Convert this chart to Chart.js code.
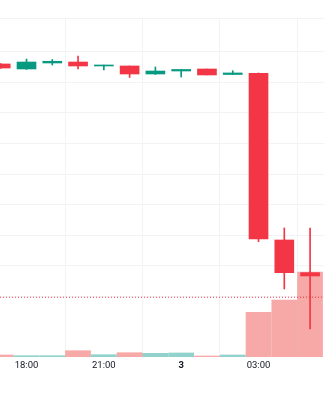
<!DOCTYPE html>
<html>
<head>
<meta charset="utf-8">
<script src="https://cdn.jsdelivr.net/npm/chart.js@4"></script>
<style>
    html, body { margin: 0; padding: 0; background: #ffffff; }
    #wrap { width: 324px; height: 400px; }
</style>
</head>
<body>
<div id="wrap"><canvas id="candleChart" width="324" height="400"></canvas></div>
<script>
/***************************************************************
 * DATA
 ***************************************************************/
// hour of each candle (24 = day 3, 00:00)
const hours   = [17, 18, 19, 20, 21, 22, 23, 24, 25, 26, 27, 28, 29];
const opens   = [83.01, 82.19, 83.17, 83.33, 82.68, 82.68, 81.37, 81.86, 82.19, 81.29, 81.49, 54.25, 48.91];
const highs   = [83.09, 83.82, 83.74, 84.31, 82.84, 82.68, 82.52, 82.11, 82.19, 81.91, 81.54, 56.21, 56.21];
const lows    = [82.27, 82.11, 82.84, 82.19, 82.03, 80.80, 81.29, 80.88, 81.21, 81.29, 53.97, 46.24, 39.71];
const closes  = [82.35, 83.33, 83.45, 82.68, 82.84, 81.37, 81.86, 82.11, 81.21, 81.54, 54.41, 48.91, 48.37];
const volumes = [20, 13, 13, 63, 23, 43, 37, 40, 10, 20, 447, 570, 850];

const lastPrice  = 44.89;
const tickHours  = [18, 21, 24, 27];
const tickLabels = ["18:00", "21:00", "3", "03:00"];
const priceGrid  = [45, 50, 55, 60, 65, 70, 75, 80, 85, 90.52];

/***************************************************************
 * STYLE
 ***************************************************************/
const UP = "#089981";
const DOWN = "#F23645";
const VOL_UP = "rgba(38,166,154,0.5)";
const VOL_DOWN = "rgba(239,83,80,0.5)";
const GRID = "#f2f3f5";

const xMin = 16.972, xMax = 29.54;
const priceMin = 35.13, priceMax = 90.52;
const volumeMax = 3390;

const isUp = i => closes[i] >= opens[i];

/***************************************************************
 * CHART
 ***************************************************************/
const ctx = document.getElementById("candleChart");

new Chart(ctx, {
    type: "bar",
    data: {
        datasets: [
            {
                type: "line",
                data: [{ x: xMin, y: lastPrice }, { x: xMax, y: lastPrice }],
                borderColor: DOWN,
                borderWidth: 1,
                borderDash: [1, 2],
                pointRadius: 0,
                yAxisID: "y",
                order: 0
            },
            {
                data: hours.map((h, i) => ({ x: h, y: [opens[i], closes[i]] })),
                backgroundColor: hours.map((h, i) => isUp(i) ? UP : DOWN),
                barThickness: 19,
                minBarLength: 1,
                grouped: false,
                yAxisID: "y",
                order: 1
            },
            {
                data: hours.map((h, i) => ({ x: h, y: [lows[i], highs[i]] })),
                backgroundColor: hours.map((h, i) => isUp(i) ? UP : DOWN),
                barThickness: 1,
                grouped: false,
                yAxisID: "y",
                order: 2
            },
            {
                data: hours.map((h, i) => ({ x: h, y: volumes[i] })),
                backgroundColor: hours.map((h, i) => isUp(i) ? VOL_UP : VOL_DOWN),
                barThickness: 25,
                grouped: false,
                yAxisID: "vol",
                order: 3
            }
        ]
    },
    options: {
        responsive: false,
        animation: false,
        layout: { padding: { top: 18, left: 0, right: 0, bottom: 0 } },
        plugins: {
            legend: { display: false },
            tooltip: { enabled: false }
        },
        scales: {
            x: {
                type: "linear",
                min: xMin,
                max: xMax,
                offset: false,
                grid: { color: GRID, drawTicks: false },
                border: { display: false },
                afterBuildTicks: s => { s.ticks = tickHours.map(v => ({ value: v })); },
                afterFit: s => { s.height = 43; },
                ticks: {
                    padding: 3,
                    color: "#131722",
                    maxRotation: 0,
                    autoSkip: false,
                    font: c => ({
                        family: "Roboto",
                        size: 9.5,
                        weight: c.tick && c.tick.value === 24 ? "bold" : "normal"
                    }),
                    callback: (v, i) => tickLabels[i]
                }
            },
            y: {
                position: "right",
                min: priceMin,
                max: priceMax,
                grid: { color: GRID, drawTicks: false },
                border: { display: false },
                ticks: { display: false },
                afterBuildTicks: s => { s.ticks = priceGrid.map(v => ({ value: v })); }
            },
            vol: {
                display: false,
                min: 0,
                max: volumeMax
            }
        }
    }
});
</script>
</body>
</html>
